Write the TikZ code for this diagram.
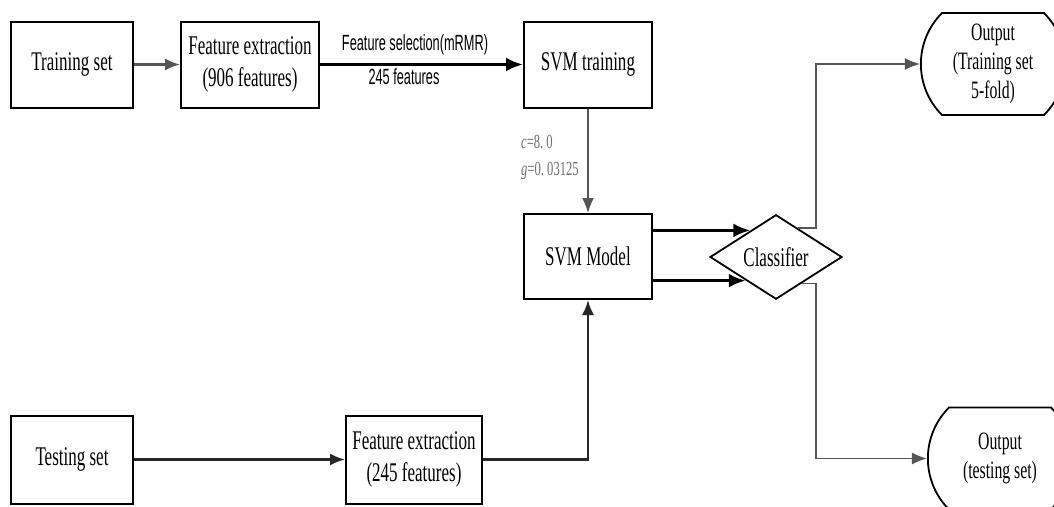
\documentclass[tikz,border=0pt]{standalone}
\usepackage{fontspec}
\setmainfont[FakeStretch=0.63]{Liberation Serif}
\newfontfamily\lblfont[FakeStretch=0.58]{Liberation Sans}
\usepackage{tikz}
\usetikzlibrary{arrows.meta,shapes.geometric,shapes.misc}
\definecolor{flowgray}{RGB}{85,85,85}
\definecolor{paramgray}{RGB}{110,110,110}

\begin{document}
\begin{tikzpicture}[x=1pt, y=-1pt,
      stepbox/.style={draw, line width=2pt, minimum height=86pt, inner sep=0pt, align=center, font=\fontsize{27}{32}\selectfont},
      outbox/.style={draw, line width=1.8pt, rounded rectangle, rounded rectangle arc length=90, inner sep=0pt, align=center, font=\fontsize{25}{29}\selectfont},
      glink/.style={draw=flowgray, line width=2.2pt, -{Latex[length=15pt,width=12pt]}},
      blink/.style={draw=black, line width=3.2pt, -{Latex[length=17pt,width=14pt]}},
      lbl/.style={font=\lblfont\fontsize{22}{24}\selectfont, anchor=base},
      param/.style={font=\fontsize{20}{24}\selectfont, text=paramgray, anchor=base west, inner sep=0pt}
    ]
      \path[fill=white, use as bounding box] (0,0) rectangle (1054,506);

      % training branch
      \node[stepbox, minimum width=122pt] (train) at (72, 64.5) {Training set};
      \node[stepbox, minimum width=138pt] (fe1) at (250, 64.5) {Feature extraction\\(906 features)};
      \node[stepbox, minimum width=128pt] (svmtrain) at (588, 64.5) {SVM training};

      \draw[glink] (train) -- (fe1);
      \draw[blink] (fe1) -- (svmtrain);
      \node[lbl] (selname) at (415, 50) {Feature selection(mRMR)};
      \node[lbl] (selnum) at (404, 84) {245 features};

      % model and classifier
      \node[stepbox, minimum width=128pt, minimum height=85pt] (svmmodel) at (588, 256.5) {SVM Model};
      \node[draw, diamond, line width=1.8pt, inner sep=0pt, minimum width=132pt, minimum height=84pt, font=\fontsize{27}{32}\selectfont] (cls) at (776, 257) {Classifier};

      \draw[draw=flowgray, line width=1.6pt, -{Latex[length=15pt,width=12pt]}] (svmtrain) -- (svmmodel);
      \node[param] (cval) at (521, 148) {\textit{c}=8.\ 0};
      \node[param] (gval) at (521, 175) {\textit{g}=0.\ 03125};

      \draw[blink] (svmmodel.east |- cls.134) -- (cls.134);
      \draw[blink] (svmmodel.east |- cls.218) -- (cls.218);

      % testing branch
      \node[stepbox, minimum width=122pt, minimum height=88pt] (test) at (72, 459.5) {Testing set};
      \node[stepbox, minimum width=136pt, minimum height=88pt] (fe2) at (414, 459.5) {Feature extraction\\(245 features)};

      \draw[glink, draw=black!85] (test) -- (fe2);
      \draw[glink, draw=black!85] (fe2.east) -| (svmmodel.south);

      % outputs
      \node[outbox, minimum width=128pt, minimum height=102pt] (outtrain) at (993, 64) {Output\\(Training set\\5-fold)};
      \node[outbox, minimum width=134pt, minimum height=102pt] (outtest) at (1000, 458.5) {Output\\(testing set)};

      \coordinate (split) at (816, 257);
      \draw[glink, line width=1.8pt] (cls.52) -- (cls.52 -| split) |- (outtrain.west);
      \draw[glink, line width=1.8pt] (cls.314) -- (cls.314 -| split) |- (outtest.west);
    \end{tikzpicture}
\end{document}
